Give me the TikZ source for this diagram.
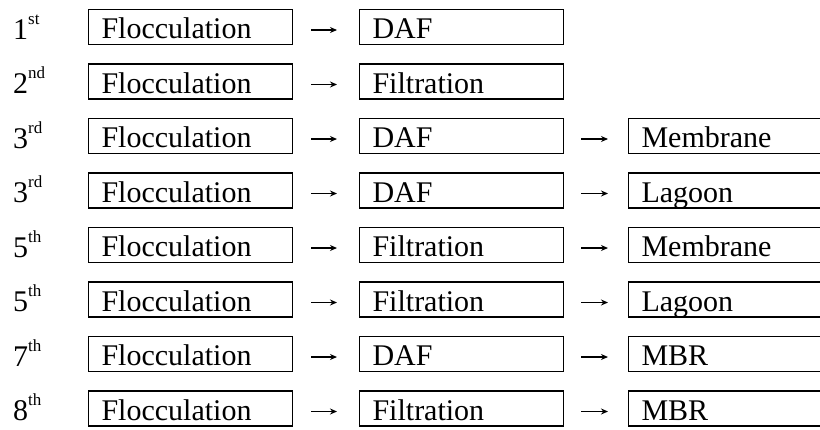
\documentclass[tikz,border=0pt]{standalone}
\usepackage{fontspec}
\setmainfont{Liberation Serif}
\usetikzlibrary{arrows.meta}
\newcommand\ordsup[1]{\raisebox{0.5em}{\fontsize{17}{17}\selectfont #1}}
\begin{document}
\begin{tikzpicture}[x=1pt,y=-1pt,
  font=\fontsize{30}{34}\selectfont,
  stage/.style={draw, line width=1.1pt, anchor=west, align=left,
    text width=178pt, inner xsep=13pt, inner ysep=0pt,
    text height=29pt, text depth=6pt},
  last/.style={stage, text width=200pt},
  rank/.style={anchor=base west, inner sep=0pt},
  arr/.style={line width=1.3pt, -{Stealth[length=7pt,width=6pt]},
    shorten <=18pt, shorten >=22pt}]
\useasboundingbox (0,0) rectangle (820,429);
\clip (0,0) rectangle (820,429);
% rows: rank, first stage, second stage, optional third stage
\foreach \i/\r/\b/\c in {1/1\ordsup{st}/DAF/,
                         2/2\ordsup{nd}/Filtration/,
                         3/3\ordsup{rd}/DAF/Membrane,
                         4/3\ordsup{rd}/DAF/Lagoon,
                         5/5\ordsup{th}/Filtration/Membrane,
                         6/5\ordsup{th}/Filtration/Lagoon,
                         7/7\ordsup{th}/DAF/MBR,
                         8/8\ordsup{th}/Filtration/MBR}{
  \pgfmathsetmacro\yc{27+54.5*(\i-1)}
  \node[rank] (r\i) at (13,\yc+12) {\r};
  \node[stage] (a\i) at (88,\yc) {Flocculation};
  \node[stage] (b\i) at (359,\yc) {\b};
  \draw[arr] ([yshift=-3pt]a\i.east) -- ([yshift=-3pt]b\i.west);
  \if\relax\detokenize\expandafter{\c}\relax\else
    \node[last] (c\i) at (628,\yc) {\c};
    \draw[arr, shorten <=17pt, shorten >=20pt] ([yshift=-3pt]b\i.east) -- ([yshift=-3pt]c\i.west);
  \fi
}
\end{tikzpicture}
\end{document}
